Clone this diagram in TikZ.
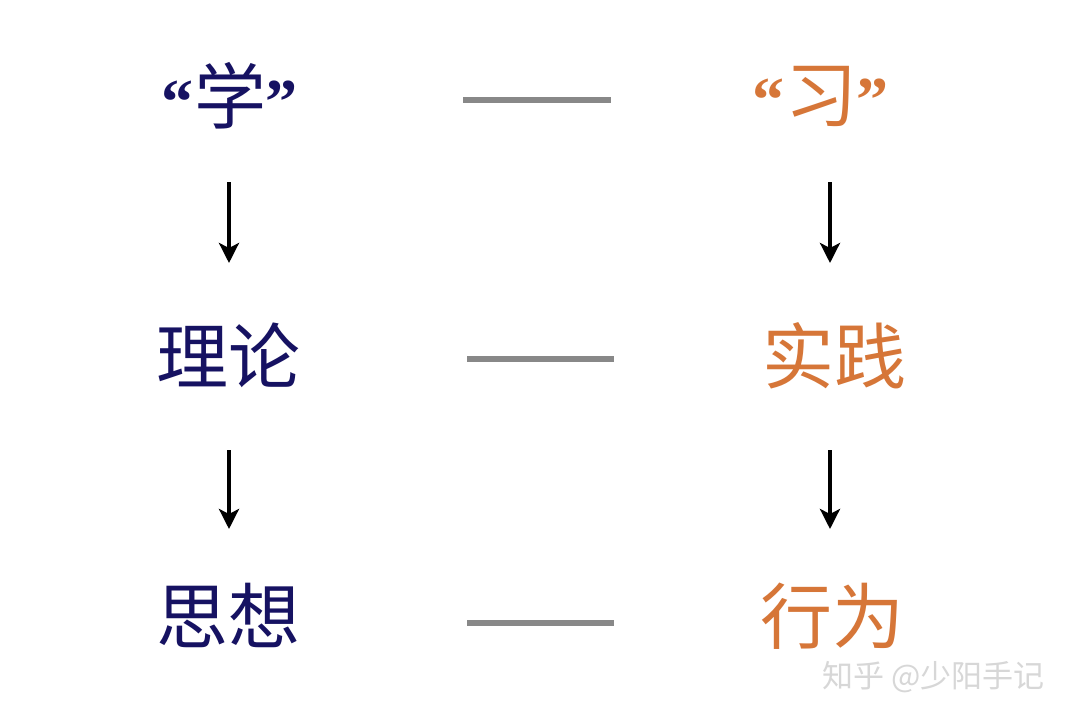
\documentclass[tikz,border=0pt]{standalone}
\usepackage{fontspec}
\setmainfont{Liberation Serif}
\newfontfamily\cjk{Noto Sans CJK SC}
\newfontfamily\quo{Liberation Serif}
\usetikzlibrary{arrows.meta}
\definecolor{navy}{RGB}{22,18,98}
\definecolor{orng}{RGB}{214,118,56}
\definecolor{lgray}{RGB}{136,136,136}
\definecolor{wmark}{RGB}{215,215,215}
\newcommand{\qo}{{\quo\bfseries\fontsize{64}{64}\selectfont “}}
\newcommand{\qc}{{\quo\bfseries\fontsize{64}{64}\selectfont ”}}
\tikzset{
  lbl/.style={font=\cjk\fontsize{72}{72}\selectfont, inner sep=0pt, anchor=base},
  lft/.style={lbl, text=navy},
  rgt/.style={lbl, text=orng},
  dashline/.style={draw=lgray, line width=5.5pt},
  downarrow/.style={draw=black, line width=4pt, -{Stealth[length=20pt,width=20pt,inset=5pt]}},
}
\begin{document}
\begin{tikzpicture}[x=1pt,y=-1pt]
\useasboundingbox (0,0) rectangle (1080,720);
\fill[white] (0,0) rectangle (1080,720);
% left column
\node[lft] (xue) at (229,123) {\qo\kern1pt 学\kern-1pt\qc};
\node[lft] (lilun) at (228,383) {理论};
\node[lft] (sixiang) at (228,643) {思想};
% right column
\node[rgt] (xi) at (820,121) {\qo\kern1pt 习\kern-1pt\qc};
\node[rgt] (shijian) at (834,383) {实践};
\node[rgt] (xingwei) at (832,643) {行为};
% dashes
\coordinate (d1a) at (463,100); \coordinate (d1b) at (611,100);
\coordinate (d2a) at (467,359); \coordinate (d2b) at (614,359);
\coordinate (d3a) at (467,623); \coordinate (d3b) at (614,623);
\draw[dashline] (d1a) -- (d1b);
\draw[dashline] (d2a) -- (d2b);
\draw[dashline] (d3a) -- (d3b);
% arrows
\coordinate (la1) at (229,182); \coordinate (lb1) at (229,263);
\coordinate (la2) at (229,450); \coordinate (lb2) at (229,529);
\coordinate (ra1) at (830,182); \coordinate (rb1) at (830,263);
\coordinate (ra2) at (830,450); \coordinate (rb2) at (830,529);
\draw[downarrow] (la1) -- (lb1);
\draw[downarrow] (la2) -- (lb2);
\draw[downarrow] (ra1) -- (rb1);
\draw[downarrow] (ra2) -- (rb2);
% watermark
\node[font=\cjk\fontsize{31}{31}\selectfont, text=wmark, anchor=base west, inner sep=0pt] (wm) at (822,687) {知乎 @少阳手记};
\end{tikzpicture}
\end{document}
